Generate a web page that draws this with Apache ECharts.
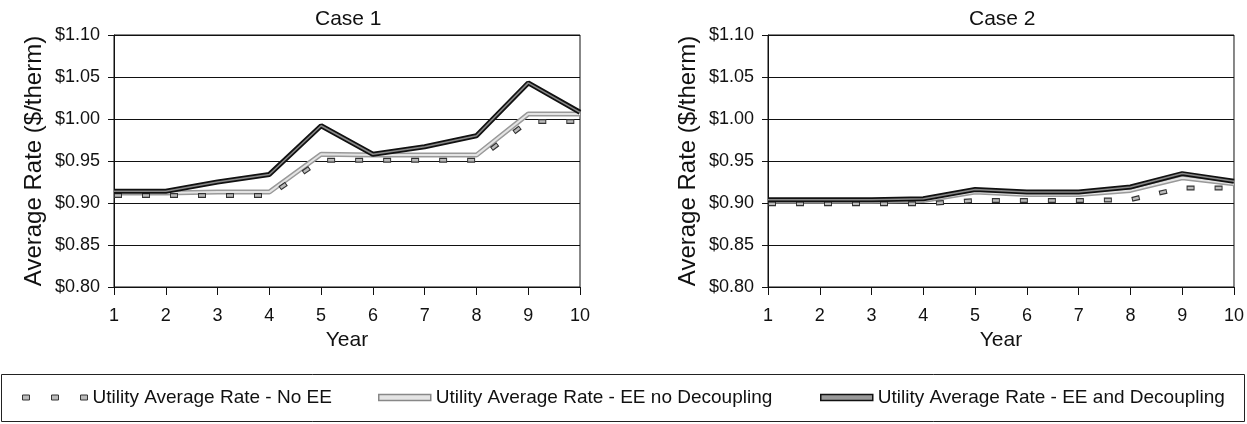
<!DOCTYPE html>
<html>
<head>
<meta charset="utf-8">
<script src="https://cdn.jsdelivr.net/npm/echarts@6/dist/echarts.min.js"></script>
<style>
  html, body { margin: 0; padding: 0; background: #fff; }
  #chart { width: 1247px; height: 424px; }
</style>
</head>
<body>
<div id="chart"></div>
<script>
// years on the x axis
var years = ['1', '2', '3', '4', '5', '6', '7', '8', '9', '10'];
// Case 1
var case1NoEE  = [0.909, 0.909, 0.909, 0.909, 0.951, 0.951, 0.951, 0.951, 0.997, 0.997];
var case1EENoD = [0.912, 0.912, 0.913, 0.913, 0.958, 0.957, 0.957, 0.957, 1.006, 1.006];
var case1EEDec = [0.914, 0.914, 0.925, 0.934, 0.992, 0.958, 0.967, 0.980, 1.043, 1.008];
// Case 2
var case2NoEE  = [0.899, 0.899, 0.899, 0.899, 0.903, 0.903, 0.903, 0.904, 0.918, 0.918];
var case2EENoD = [0.902, 0.902, 0.902, 0.903, 0.913, 0.910, 0.910, 0.915, 0.930, 0.923];
var case2EEDec = [0.904, 0.904, 0.904, 0.905, 0.916, 0.913, 0.913, 0.919, 0.935, 0.926];
var titles = ['Case 1', 'Case 2'];
var names = ['Utility Average Rate - No EE', 'Utility Average Rate - EE no Decoupling', 'Utility Average Rate - EE and Decoupling'];

var FONT = '"Liberation Sans", sans-serif';

var myChart = echarts.init(document.getElementById('chart'));

function yAxisOpt(i) {
  return {
    type: 'value', gridIndex: i, min: 0.8, max: 1.1, interval: 0.05,
    name: 'Average Rate ($/therm)', nameLocation: 'middle', nameGap: 68,
    nameTextStyle: { fontFamily: FONT, fontSize: 24, color: '#111' },
    axisLine: { show: true, lineStyle: { color: '#111' } },
    axisTick: { show: true, length: 6, lineStyle: { color: '#111' } },
    axisLabel: { fontFamily: FONT, fontSize: 18, color: '#111', margin: 14,
      formatter: function (v) { return '$' + v.toFixed(2); } },
    splitLine: { lineStyle: { color: '#111', width: 1 } }
  };
}
function xAxisOpt(i) {
  return {
    type: 'category', gridIndex: i, data: years, boundaryGap: false,
    name: 'Year', nameLocation: 'middle', nameGap: 43,
    nameTextStyle: { fontFamily: FONT, fontSize: 21, color: '#111' },
    axisLine: { lineStyle: { color: '#111' } },
    axisTick: { show: true, length: 8, alignWithLabel: true, lineStyle: { color: '#111' } },
    axisLabel: { fontFamily: FONT, fontSize: 18, color: '#111', margin: 20 }
  };
}

function lines(i, noEE, eeNoD, eeDec) {
  return [
    { name: names[1], type: 'line', xAxisIndex: i, yAxisIndex: i, data: eeNoD, symbol: 'none',
      color: '#999', lineStyle: { color: '#999', width: 5 } },
    { name: 'inner1', type: 'line', xAxisIndex: i, yAxisIndex: i, data: eeNoD, symbol: 'none',
      lineStyle: { color: '#e4e4e4', width: 2 } },
    { name: names[0], type: 'line', xAxisIndex: i, yAxisIndex: i, data: noEE, symbol: 'none',
      color: '#333', lineStyle: { color: '#333', width: 5, type: [8, 20] } },
    { name: 'inner0', type: 'line', xAxisIndex: i, yAxisIndex: i, data: noEE, symbol: 'none',
      lineStyle: { color: '#bbb', width: 2.5, type: [6, 22], dashOffset: -1 } },
    { name: names[2], type: 'line', xAxisIndex: i, yAxisIndex: i, data: eeDec, symbol: 'none',
      color: '#111', lineStyle: { color: '#111', width: 5 } },
    { name: 'inner2', type: 'line', xAxisIndex: i, yAxisIndex: i, data: eeDec, symbol: 'none',
      lineStyle: { color: '#888', width: 1.5 } }
  ];
}

var legendText = { fontFamily: FONT, fontSize: 19, color: '#111' };

var option = {
  animation: false,
  backgroundColor: '#fff',
  title: [
    { text: titles[0], left: 315, top: 9, padding: 0, textStyle: { fontFamily: FONT, fontSize: 21, fontWeight: 'normal', color: '#111' } },
    { text: titles[1], left: 969, top: 9, padding: 0, textStyle: { fontFamily: FONT, fontSize: 21, fontWeight: 'normal', color: '#111' } }
  ],
  grid: [
    { left: 114, right: 667, top: 35, bottom: 137, show: true, borderColor: '#111', borderWidth: 1 },
    { left: 768, right: 13, top: 35, bottom: 137, show: true, borderColor: '#111', borderWidth: 1 }
  ],
  xAxis: [xAxisOpt(0), xAxisOpt(1)],
  yAxis: [yAxisOpt(0), yAxisOpt(1)],
  legend: [
    { data: [names[0]], left: 22, top: 388, padding: 0, itemWidth: 65, itemHeight: 5,
      icon: 'path://M0,0h7v5h-7zM29,0h7v5h-7zM58,0h7v5h-7z',
      itemStyle: { color: '#bbb', borderColor: '#333', borderWidth: 1 }, textStyle: legendText },
    { data: [names[1]], left: 378, top: 388, padding: 0, itemWidth: 52, itemHeight: 6, icon: 'rect',
      itemStyle: { color: '#e4e4e4', borderColor: '#888', borderWidth: 1.5 }, textStyle: legendText },
    { data: [names[2]], left: 820, top: 388, padding: 0, itemWidth: 52, itemHeight: 6, icon: 'rect',
      itemStyle: { color: '#999', borderColor: '#111', borderWidth: 1.5 }, textStyle: legendText }
  ],
  graphic: [
    { type: 'rect', shape: { x: 1.5, y: 374.5, width: 1243, height: 47 },
      style: { fill: 'none', stroke: '#222', lineWidth: 1 }, silent: true }
  ],
  series: lines(0, case1NoEE, case1EENoD, case1EEDec).concat(lines(1, case2NoEE, case2EENoD, case2EEDec))
};

myChart.setOption(option);
</script>
</body>
</html>
